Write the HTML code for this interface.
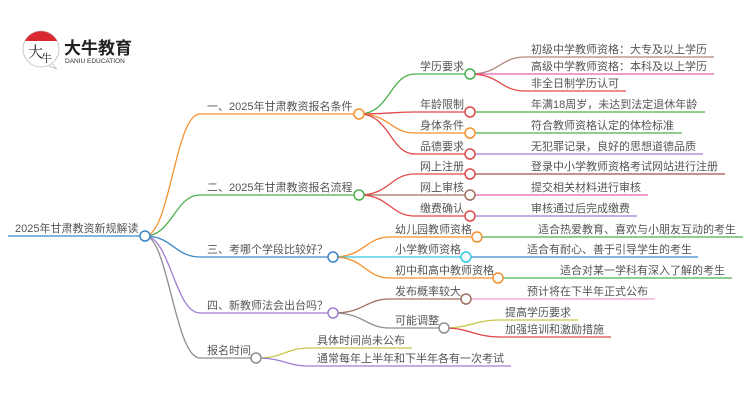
<!DOCTYPE html>
<html><head><meta charset="utf-8"><style>
html,body{margin:0;padding:0;background:#fff;}
svg{display:block;}
text{font-family:"Liberation Sans","Noto Sans CJK SC",sans-serif;font-size:11px;fill:#555;}
</style></head><body>
<svg width="750" height="410" viewBox="0 0 750 410" xmlns="http://www.w3.org/2000/svg">
<!-- logo -->
<circle cx="41" cy="49" r="18" fill="#fff" stroke="#bbb" stroke-width="0.8"/>
<path d="M25 41 A18 18 0 0 1 57 41 Z" fill="#d9282f"/>
<path d="M52 64 L57 69 L49 66" fill="#fff" stroke="#bbb" stroke-width="0.8"/>
<text x="28" y="57" style="font-size:15px;fill:#222;font-family:'Noto Serif CJK SC',serif">大</text>
<text x="41" y="62" style="font-size:11px;fill:#222;font-family:'Noto Serif CJK SC',serif">牛</text>
<text x="64" y="54" style="font-size:17px;font-weight:bold;fill:#222">大牛教育</text>
<text x="65" y="63" style="font-size:6.5px;fill:#333">DANIU EDUCATION</text>

<g fill="none" stroke-width="1.3">
<path d="M8 236 H145" stroke="#3a86c8"/>
<path d="M145 236 C170 236,175 114,200 114 H359" stroke="#f5902e"/>
<path d="M145 236 C172 236,175 195,200 195 H359" stroke="#4cb04c"/>
<path d="M145 236 C172 236,175 257,200 257 H333" stroke="#3a86c8"/>
<path d="M145 236 C170 236,175 313,200 313 H333" stroke="#a07cd0"/>
<path d="M145 236 C168 236,175 358,200 358 H256" stroke="#8d8d8d"/>
<path d="M359 114 C390 114,390 74,415 74 H470" stroke="#4cb04c"/>
<path d="M359 114 C390 114,390 112,415 112 H470" stroke="#e04848"/>
<path d="M359 114 C390 114,390 133,415 133 H470" stroke="#f5902e"/>
<path d="M359 114 C390 114,390 154,415 154 H470" stroke="#e04848"/>
<path d="M470 74 C500 74,500 57,525 57 H714" stroke="#b08878"/>
<path d="M470 74 C500 74,500 74,525 74 H714" stroke="#e860b0"/>
<path d="M470 74 C500 74,500 91,525 91 H626" stroke="#e04848"/>
<path d="M470 112 H705" stroke="#4cb04c"/>
<path d="M470 133 H682" stroke="#4cb04c"/>
<path d="M470 154 H703" stroke="#a07cd0"/>
<path d="M359 195 C390 195,390 174,415 174 H470" stroke="#e04848"/>
<path d="M359 195 H470" stroke="#a07060"/>
<path d="M359 195 C390 195,390 216,415 216 H470" stroke="#e04848"/>
<path d="M470 174 H725" stroke="#a05050"/>
<path d="M470 195 H648" stroke="#e860b0"/>
<path d="M470 216 H637" stroke="#a07cd0"/>
<path d="M333 257 C365 257,365 237,390 237 H477" stroke="#f5902e"/>
<path d="M333 257 H466" stroke="#30c8e0"/>
<path d="M333 257 C365 257,365 278,390 278 H498" stroke="#f5902e"/>
<path d="M477 237 H743" stroke="#4cb04c"/>
<path d="M466 257 H698" stroke="#3a86c8"/>
<path d="M498 278 H732" stroke="#4cb04c"/>
<path d="M333 313 C365 313,365 299,390 299 H466" stroke="#a07060"/>
<path d="M333 313 C365 313,365 328,390 328 H444" stroke="#8d8d8d"/>
<path d="M466 299 H655" stroke="#f0a0d0"/>
<path d="M444 328 C470 328,475 320,500 320 H578" stroke="#c8c848"/>
<path d="M444 328 C470 328,475 337,500 337 H611" stroke="#e04848"/>
<path d="M256 358 C285 358,285 348,310 348 H412" stroke="#c8c848"/>
<path d="M256 358 C285 358,285 366,310 366 H511" stroke="#a07cd0"/>
</g>
<g fill="#fff" stroke-width="1.5">
<circle cx="145" cy="236" r="5" stroke="#3a86c8"/>
<circle cx="359" cy="114" r="5" stroke="#f5902e"/>
<circle cx="359" cy="195" r="5" stroke="#4cb04c"/>
<circle cx="333" cy="257" r="5" stroke="#3a86c8"/>
<circle cx="333" cy="313" r="5" stroke="#a07cd0"/>
<circle cx="256" cy="358" r="5" stroke="#8d8d8d"/>
<circle cx="470" cy="74" r="5" stroke="#4cb04c"/>
<circle cx="470" cy="112" r="5" stroke="#e04848"/>
<circle cx="470" cy="133" r="5" stroke="#f5902e"/>
<circle cx="470" cy="154" r="5" stroke="#e04848"/>
<circle cx="470" cy="174" r="5" stroke="#e04848"/>
<circle cx="470" cy="195" r="5" stroke="#a07060"/>
<circle cx="470" cy="216" r="5" stroke="#e04848"/>
<circle cx="477" cy="237" r="5" stroke="#f5902e"/>
<circle cx="466" cy="257" r="5" stroke="#30c8e0"/>
<circle cx="498" cy="278" r="5" stroke="#f5902e"/>
<circle cx="466" cy="299" r="5" stroke="#a07060"/>
<circle cx="444" cy="328" r="5" stroke="#8d8d8d"/>
</g>
<text x="15" y="232">2025年甘肃教资新规解读</text>
<text x="207" y="110">一、2025年甘肃教资报名条件</text>
<text x="207" y="191">二、2025年甘肃教资报名流程</text>
<text x="207" y="253">三、考哪个学段比较好？</text>
<text x="207" y="309">四、新教师法会出台吗？</text>
<text x="207" y="354">报名时间</text>
<text x="420" y="70">学历要求</text>
<text x="420" y="108">年龄限制</text>
<text x="420" y="129">身体条件</text>
<text x="420" y="150">品德要求</text>
<text x="420" y="170">网上注册</text>
<text x="420" y="191">网上审核</text>
<text x="420" y="212">缴费确认</text>
<text x="531" y="53">初级中学教师资格：大专及以上学历</text>
<text x="531" y="70">高级中学教师资格：本科及以上学历</text>
<text x="531" y="87">非全日制学历认可</text>
<text x="531" y="108">年满18周岁，未达到法定退休年龄</text>
<text x="531" y="129">符合教师资格认定的体检标准</text>
<text x="531" y="150">无犯罪记录，良好的思想道德品质</text>
<text x="531" y="170">登录中小学教师资格考试网站进行注册</text>
<text x="531" y="191">提交相关材料进行审核</text>
<text x="531" y="212">审核通过后完成缴费</text>
<text x="395" y="233">幼儿园教师资格</text>
<text x="395" y="253">小学教师资格</text>
<text x="395" y="274">初中和高中教师资格</text>
<text x="538" y="233">适合热爱教育、喜欢与小朋友互动的考生</text>
<text x="527" y="253">适合有耐心、善于引导学生的考生</text>
<text x="560" y="274">适合对某一学科有深入了解的考生</text>
<text x="395" y="295">发布概率较大</text>
<text x="395" y="324">可能调整</text>
<text x="527" y="295">预计将在下半年正式公布</text>
<text x="505" y="316">提高学历要求</text>
<text x="505" y="333">加强培训和激励措施</text>
<text x="317" y="344">具体时间尚未公布</text>
<text x="317" y="362">通常每年上半年和下半年各有一次考试</text>
</svg>
</body></html>
